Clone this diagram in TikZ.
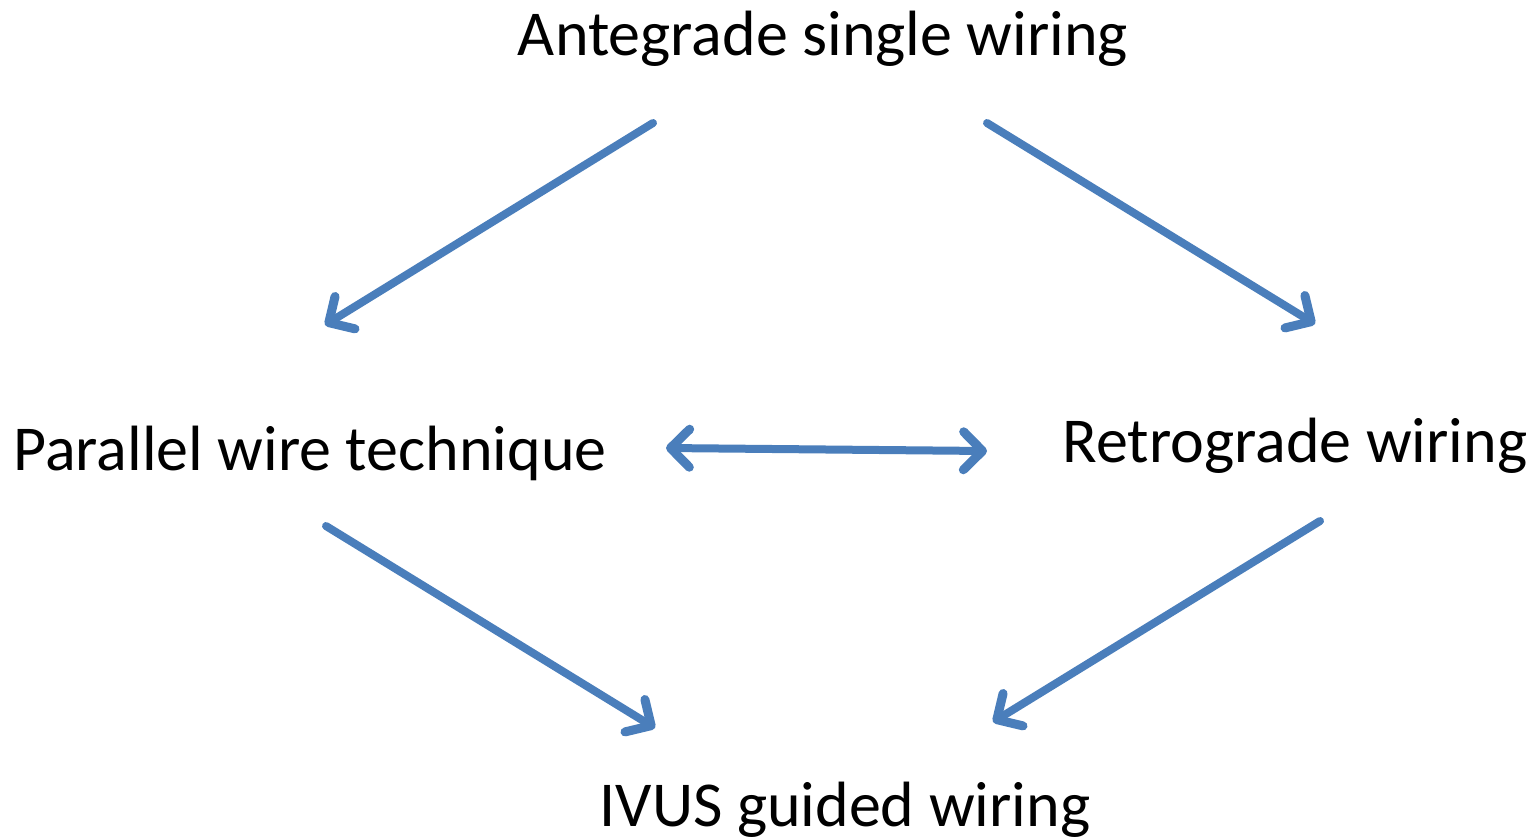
\documentclass[tikz,border=0pt]{standalone}
\usepackage{fontspec}
\setmainfont{Carlito}
\usetikzlibrary{arrows.meta}
\definecolor{arrowblue}{RGB}{74,126,187}
\tikzset{
  lbl/.style={font=\fontsize{64}{76}\selectfont, inner sep=0pt, anchor=base},
  tipb/.tip={Straight Barb[length=19pt,width=38pt,line width=9pt,round]},
  conn/.style={draw=arrowblue, line width=8pt, line cap=round, -tipb},
  conn2/.style={draw=arrowblue, line width=8pt, line cap=round, tipb-tipb}
}
\begin{document}
\begin{tikzpicture}[x=1pt,y=-1pt]
\useasboundingbox (0,0) rectangle (1533,838);
\node[lbl] (ante) at (823,55) {Antegrade single wiring};
\node[lbl] (par) at (310,470) {Parallel wire technique};
\node[lbl] (retro) at (1295,462) {Retrograde wiring};
\node[lbl] (ivus) at (845,826) {IVUS guided wiring};
\coordinate (a1s) at (653,123);
\coordinate (a1e) at (325,325);
\coordinate (a2s) at (987,123);
\coordinate (a2e) at (1315,324);
\coordinate (a3s) at (666,448);
\coordinate (a3e) at (987,451);
\coordinate (a4s) at (326,526);
\coordinate (a4e) at (655,728);
\coordinate (a5s) at (1320,521);
\coordinate (a5e) at (993,722);
\draw[conn] (a1s) -- (a1e);
\draw[conn] (a2s) -- (a2e);
\draw[conn2] (a3s) -- (a3e);
\draw[conn] (a4s) -- (a4e);
\draw[conn] (a5s) -- (a5e);
\end{tikzpicture}
\end{document}
